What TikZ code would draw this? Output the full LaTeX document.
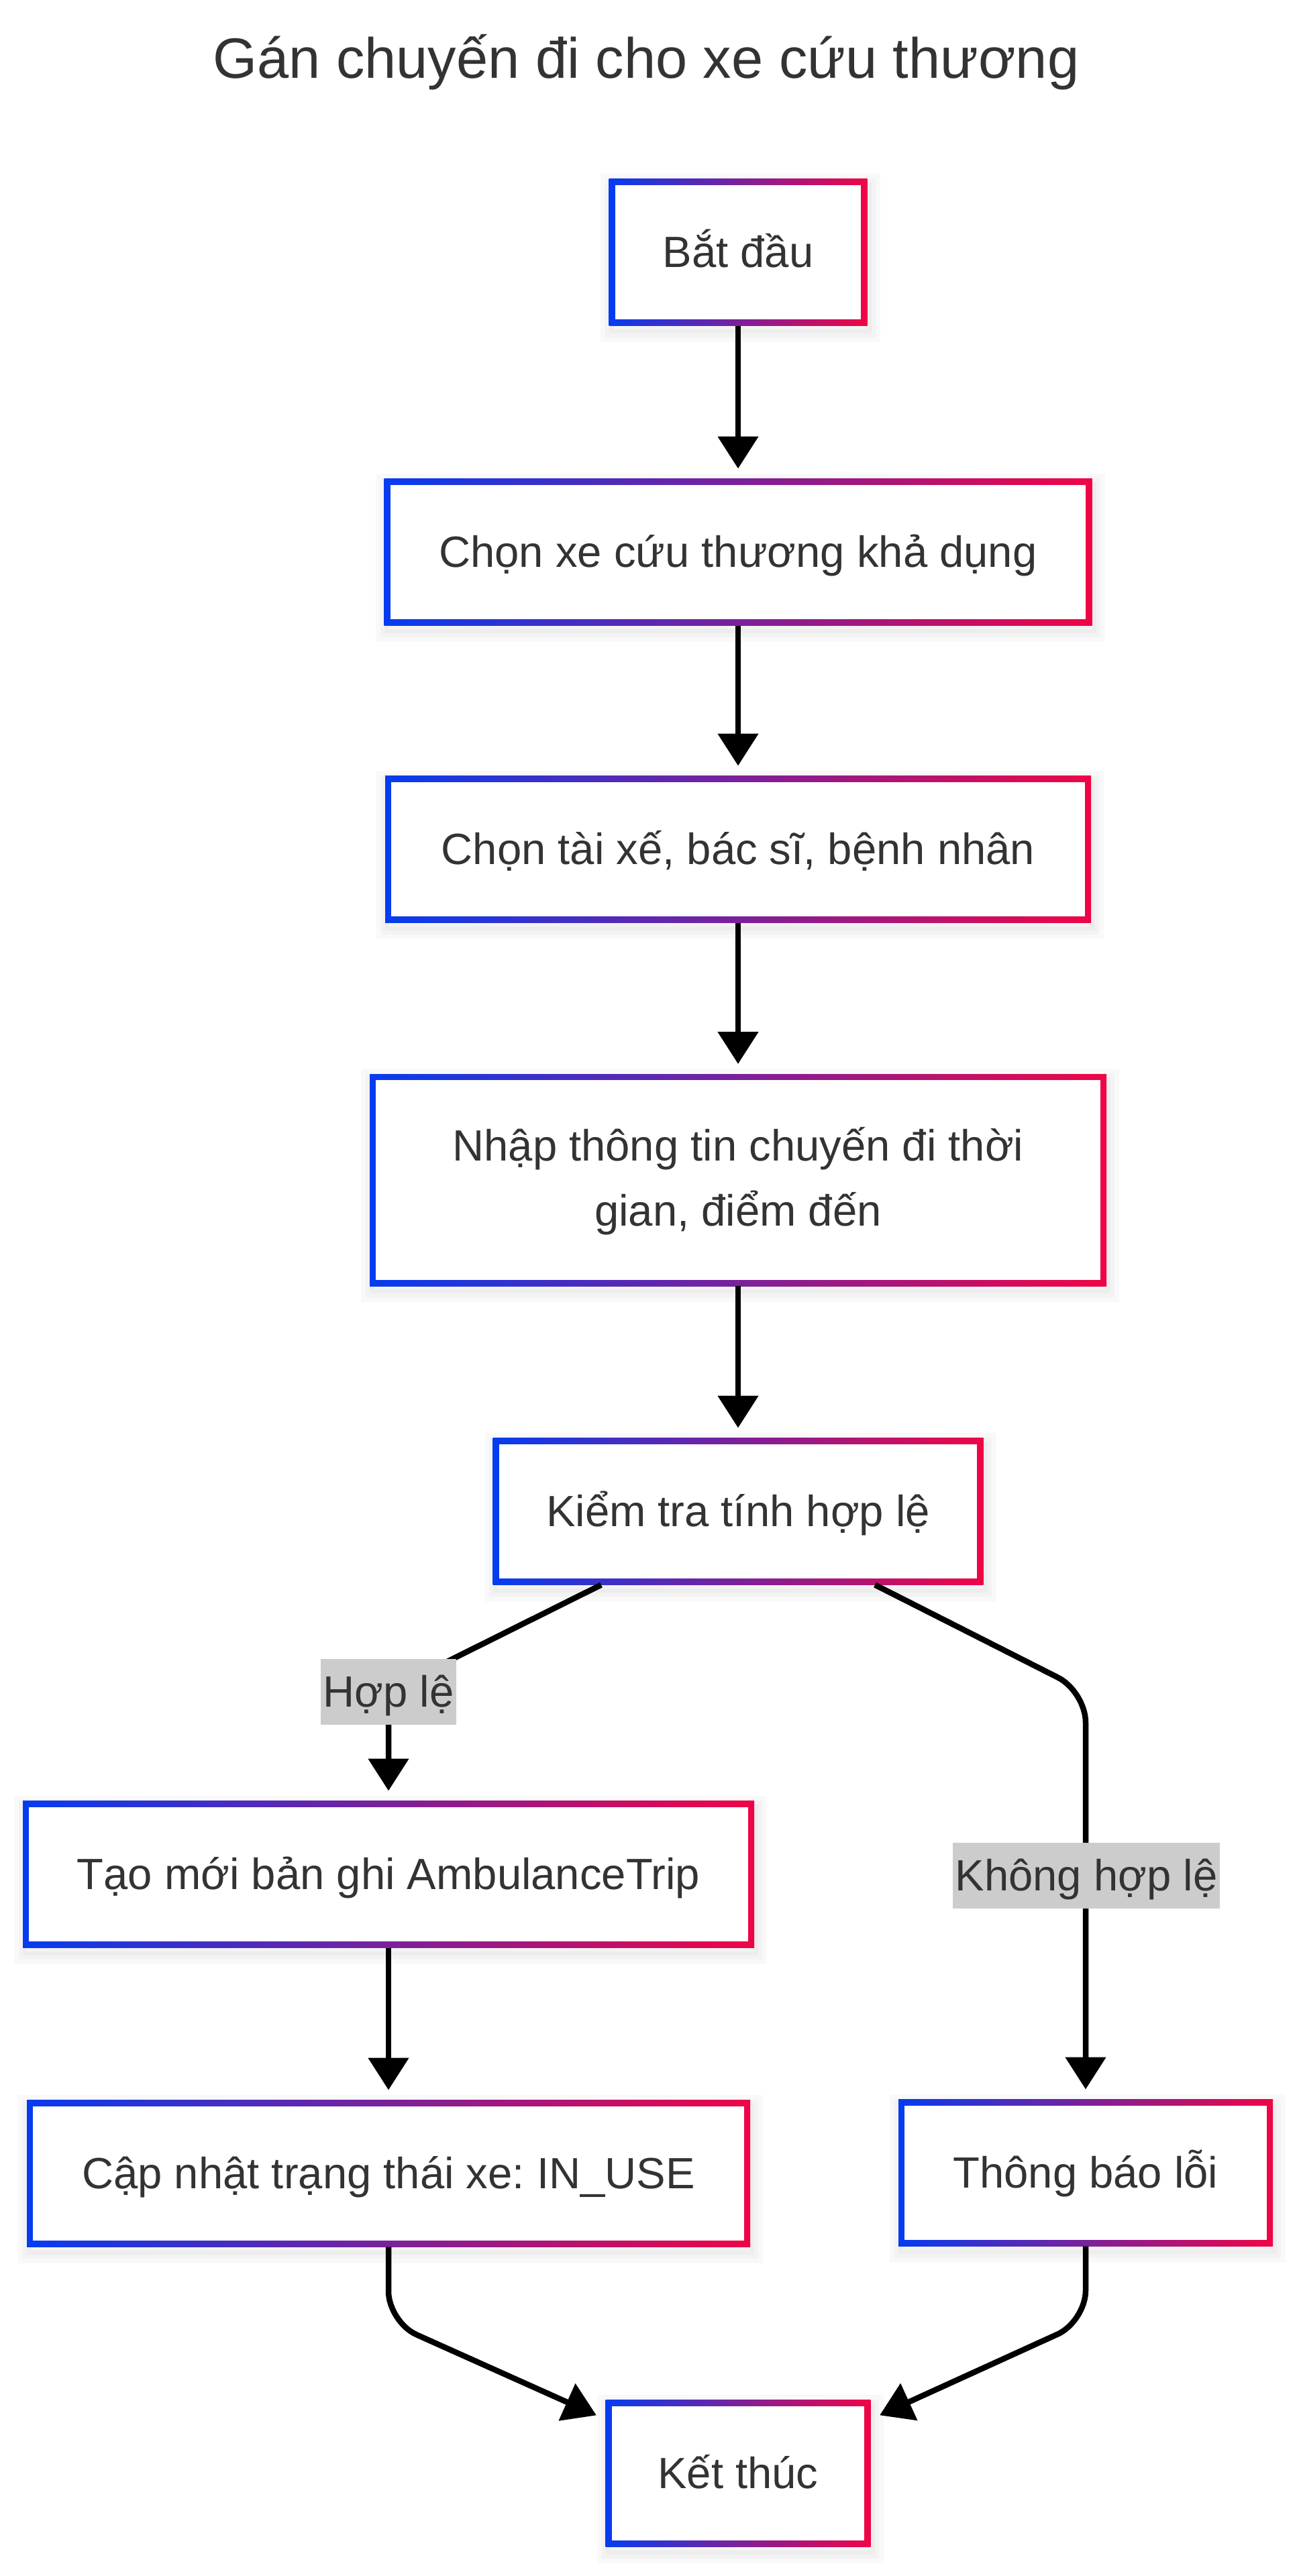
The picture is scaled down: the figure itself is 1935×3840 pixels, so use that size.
\documentclass[tikz,border=0pt]{standalone}
\usepackage{fontspec}
\setmainfont{Liberation Sans}
\usetikzlibrary{arrows.meta}
\tikzset{>={Triangle[length=24pt,width=29.5pt]}}
\definecolor{gblue}{RGB}{5,60,240}
\definecolor{gred}{RGB}{240,5,70}
\definecolor{txt}{RGB}{51,51,51}
\definecolor{labbg}{RGB}{204,204,204}
\frenchspacing

\begin{document}
\begin{tikzpicture}[x=0.5pt,y=-0.5pt]
\tikzset{
  flowbox/.style={
    rectangle, fill=white, inner sep=0pt, outer sep=0pt,
    minimum height=109.5pt, align=center, text=txt,
    text height=24pt, text depth=2pt,
    font=\fontsize{32.6}{48.5}\selectfont,
    preaction={draw=black, draw opacity=0.025, line width=16pt,
      transform canvas={xshift=1.5pt,yshift=-4pt}},
    preaction={draw=black, draw opacity=0.025, line width=9pt,
      transform canvas={xshift=1.5pt,yshift=-4pt}},
    preaction={draw=black, draw opacity=0.025, line width=3pt,
      transform canvas={xshift=1.5pt,yshift=-4pt}},
    path picture={
      \shade[left color=gblue, right color=gred]
        (path picture bounding box.south west) rectangle (path picture bounding box.north east);
      \fill[white] ([shift={(4.6pt,4.6pt)}]path picture bounding box.south west)
        rectangle ([shift={(-4.6pt,-4.6pt)}]path picture bounding box.north east);
    }
  },
  flow/.style={->, line width=4.25pt, shorten >=7.5pt, rounded corners=23pt}
};

\tikzstyle{lab}=[fill=labbg, text=txt, inner xsep=2pt, inner ysep=0pt,
  minimum height=49pt, text height=24pt, text depth=2pt,
  font=\fontsize{32.6}{39}\selectfont]

 \path[use as bounding box, fill=white] (0,0) rectangle (1935,3840);

 \node[anchor=base, text=txt, font=\fontsize{42.4}{50}\selectfont] (title)
   at (963,116) {Gán chuyến đi cho xe cứu thương};

 \node[flowbox, minimum width=192.5pt] (start) at (1100,376) {Bắt đầu};
 \node[flowbox, minimum width=527.5pt] (pick) at (1100,823) {Chọn xe cứu thương khả dụng};
 \node[flowbox, minimum width=526pt] (staff) at (1100,1266) {Chọn tài xế, bác sĩ, bệnh nhân};
 \node[flowbox, minimum width=549pt, minimum height=158pt, text height=70pt] (input)
   at (1100,1759) {Nhập thông tin chuyến đi thời\\gian, điểm đến};
 \node[flowbox, minimum width=365.5pt] (check) at (1100,2253) {Kiểm tra tính hợp lệ};
 \node[flowbox, minimum width=545pt] (create) at (579,2794) {Tạo mới bản ghi AmbulanceTrip};
 \node[flowbox, minimum width=539pt] (update) at (579,3240) {Cập nhật trạng thái xe: IN\_USE};
 \node[flowbox, minimum width=279pt] (err) at (1618,3239) {Thông báo lỗi};
 \node[flowbox, minimum width=197.5pt] (finish) at (1100,3687) {Kết thúc};

  \draw[flow] (start) -- (pick);
  \draw[flow] (pick) -- (staff);
  \draw[flow] (staff) -- (input);
  \draw[flow] (input) -- (check);
  \draw[flow] ([xshift=-102pt]check.south) -- ([yshift=82pt]create.north) -- (create);
  \draw[flow] ([xshift=102pt]check.south) -- ([yshift=304pt]err.north) -- (err);
  \draw[flow] (create) -- (update);
  \draw[flow] (update.south) -- ([yshift=-56pt]update.south) -- ([yshift=-14.5pt]finish.north west);
  \draw[flow] (err.south) -- ([yshift=-56pt]err.south) -- ([yshift=-14.5pt]finish.north east);

 \node[lab] (okl) at (579,2522) {Hợp lệ};
 \node[lab] (badl) at (1619,2796) {Không hợp lệ};
\end{tikzpicture}
\end{document}
